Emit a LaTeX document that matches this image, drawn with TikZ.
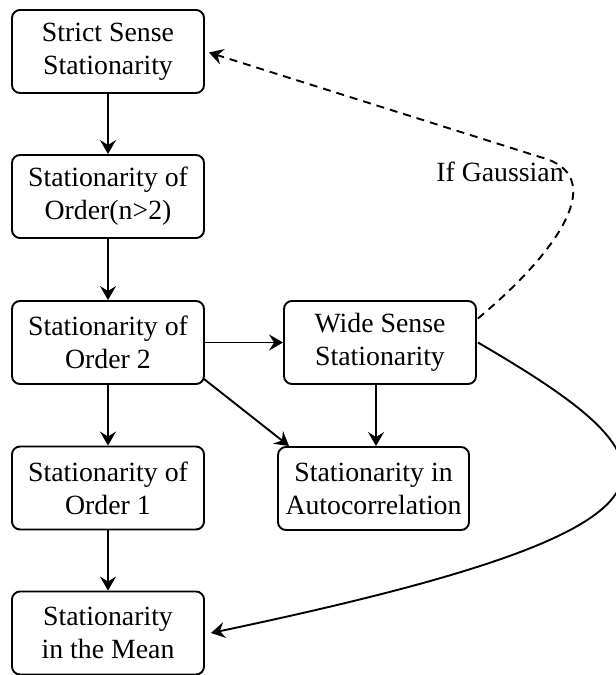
\documentclass[tikz,border=0pt]{standalone}
\usepackage{fontspec}
\setmainfont{Liberation Serif}
\usetikzlibrary{arrows.meta,calc}
\begin{document}
\begin{tikzpicture}[x=1pt,y=-1pt,
  box/.style={draw,line width=1.9pt,rounded corners=8pt,minimum width=192pt,minimum height=83pt,
    align=center,inner sep=0pt,font=\fontsize{27.8pt}{33pt}\selectfont},
  conn/.style={line width=1.9pt,-{Stealth[length=14pt,width=16pt,inset=5pt]}},
  lbl/.style={font=\fontsize{27.8pt}{33pt}\selectfont,inner sep=0pt}]
\useasboundingbox (0,0) rectangle (616,675);
\node[box] (ssr) at (108,51.5) {Strict Sense\\Stationarity};
\node[box] (o3) at (108,196.5) {Stationarity of\\Order(n>2)};
\node[box] (o2) at (108,342.5) {Stationarity of\\Order 2};
\node[box] (o1) at (108,488) {Stationarity of\\Order 1};
\node[box] (mean) at (108,633) {Stationarity\\in the Mean};
\node[box] (wss) at (380,342.5) {Wide Sense\\Stationarity};
\node[box,minimum width=191pt] (ac) at (373.5,488.5) {Stationarity in\\Autocorrelation};
\node[lbl] (ifg) at (500,172) {If Gaussian};
\draw[conn] (ssr.south) -- (o3.north);
\draw[conn] (o3.south) -- (o2.north);
\draw[conn] (o2.south) -- (o1.north);
\draw[conn] (o1.south) -- (mean.north);
\draw[conn] (o2.east) -- (wss.west);
\draw[conn] ($(o2.south east)+(-1,-6)$) -- ($(ac.north west)+(12,0)$);
\draw[conn] ($(wss.south)+(-4,0)$) -- ($(wss.south |- ac.north)+(-4,0)$);
\draw[conn] ($(wss.east)+(1,0)$) .. controls (690,466) and (720,526) .. ($(mean.east)+(6,0)$);
\draw[conn,dash pattern=on 8pt off 6pt] ($(wss.east)+(1,-24)$) .. controls (560,250) and (610,175) .. (540,157) -- ($(ssr.east)+(4,1)$);
\end{tikzpicture}
\end{document}
